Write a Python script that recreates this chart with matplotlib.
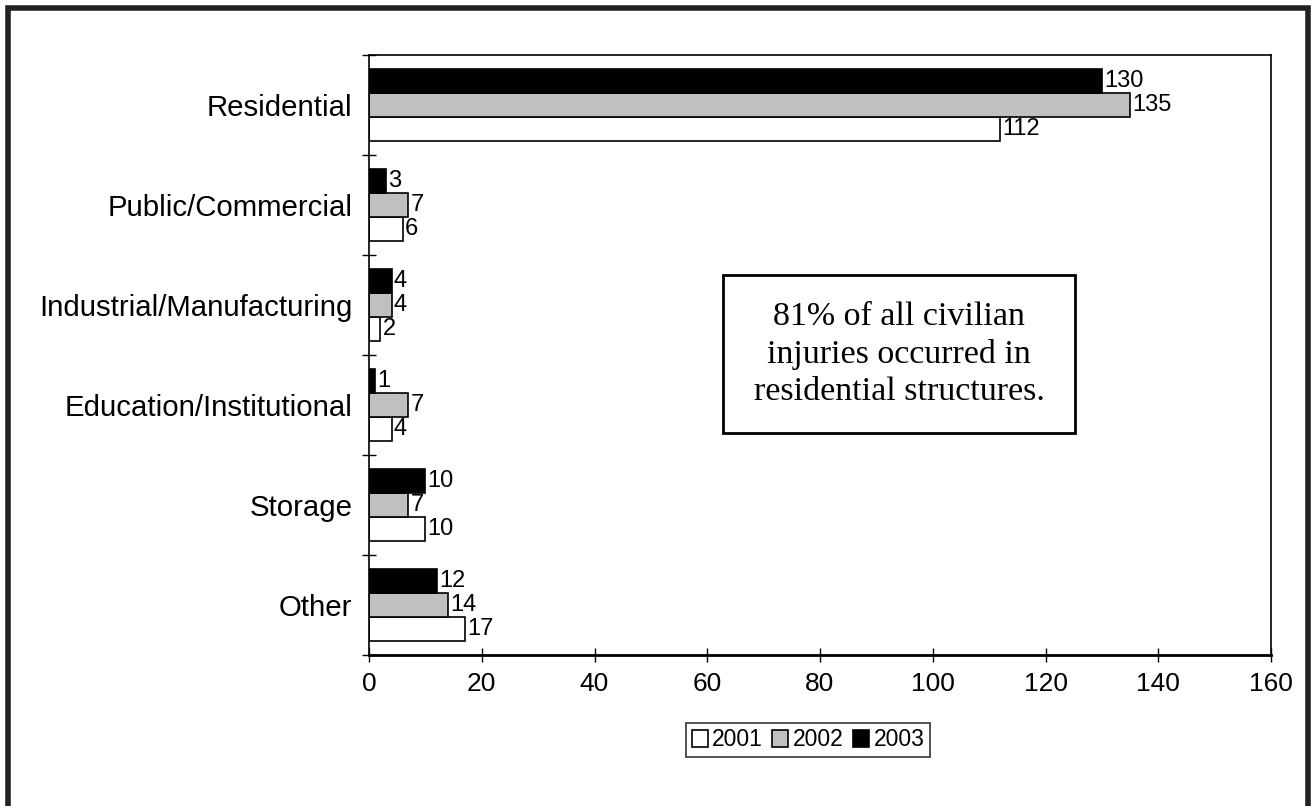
import matplotlib.pyplot as plt
from matplotlib.patches import Rectangle

plt.rcParams['font.family'] = ['Liberation Sans', 'DejaVu Sans']

categories = ["Residential", "Public/Commercial", "Industrial/Manufacturing",
              "Education/Institutional", "Storage", "Other"]
years = ["2001", "2002", "2003"]
injuries_2001 = [112, 6, 2, 4, 10, 17]
injuries_2002 = [135, 7, 4, 7, 7, 14]
injuries_2003 = [130, 3, 4, 1, 10, 12]
note = "81% of all civilian\ninjuries occurred in\nresidential structures."

fig = plt.figure(figsize=(13.11, 8.06), dpi=100)
ax = fig.add_axes([369 / 1311, 1 - 655 / 806, 902 / 1311, 600 / 806])

ypos = [len(categories) - 1 - i for i in range(len(categories))]
h = 0.24
series = [(injuries_2001, -h, "white"), (injuries_2002, 0, "#c0c0c0"), (injuries_2003, h, "black")]
for (vals, off, col), yr in zip(series, years):
    bars = ax.barh([y + off for y in ypos], vals, height=h, color=col,
                   edgecolor="black", linewidth=1.2, label=yr)
    for b, v in zip(bars, vals):
        ax.text(b.get_width() + 0.4, b.get_y() + h / 2, str(v), va="center",
                ha="left", fontsize=17)

ax.set_xlim(0, 160)
ax.set_ylim(-0.5, len(categories) - 0.5)
ax.set_xticks(range(0, 161, 20))
ax.tick_params(axis="x", direction="inout", length=10, width=1, labelsize=19, pad=7)
ax.set_yticks(ypos)
ax.set_yticklabels(categories, fontsize=21.2)
ax.tick_params(axis="y", length=0, pad=12)
ax.set_yticks([y - 0.5 for y in range(len(categories) + 1)], minor=True)
ax.tick_params(axis="y", which="minor", direction="inout", length=10, width=1)
for s in ["top", "right", "left"]:
    ax.spines[s].set_linewidth(1.2)
ax.spines["bottom"].set_linewidth(2)

fig.legend(loc="center", bbox_to_anchor=(808 / 1311, 1 - 740 / 806), ncol=3,
           fontsize=16.5, frameon=True, fancybox=False, edgecolor="black",
           handlelength=0.7, handleheight=0.7, handletextpad=0.2,
           columnspacing=0.4, borderpad=0.25, borderaxespad=0)
fig.legends[0].get_frame().set_linewidth(1.2)

# note box
fig.patches.append(Rectangle((723 / 1311, 1 - 433 / 806), 352 / 1311, 158 / 806,
                             transform=fig.transFigure, fill=False,
                             edgecolor="black", linewidth=2))
fig.text(899 / 1311, 1 - 354 / 806, note, ha="center", va="center",
         family="Liberation Serif", fontsize=24.5, linespacing=1.28)

# outer frame
fig.patches.append(Rectangle((8 / 1311, -0.02), 1300 / 1311, 1.02 - 8 / 806,
                             transform=fig.transFigure, fill=False,
                             edgecolor="#222222", linewidth=4))

fig.savefig("out.png", dpi=100)
